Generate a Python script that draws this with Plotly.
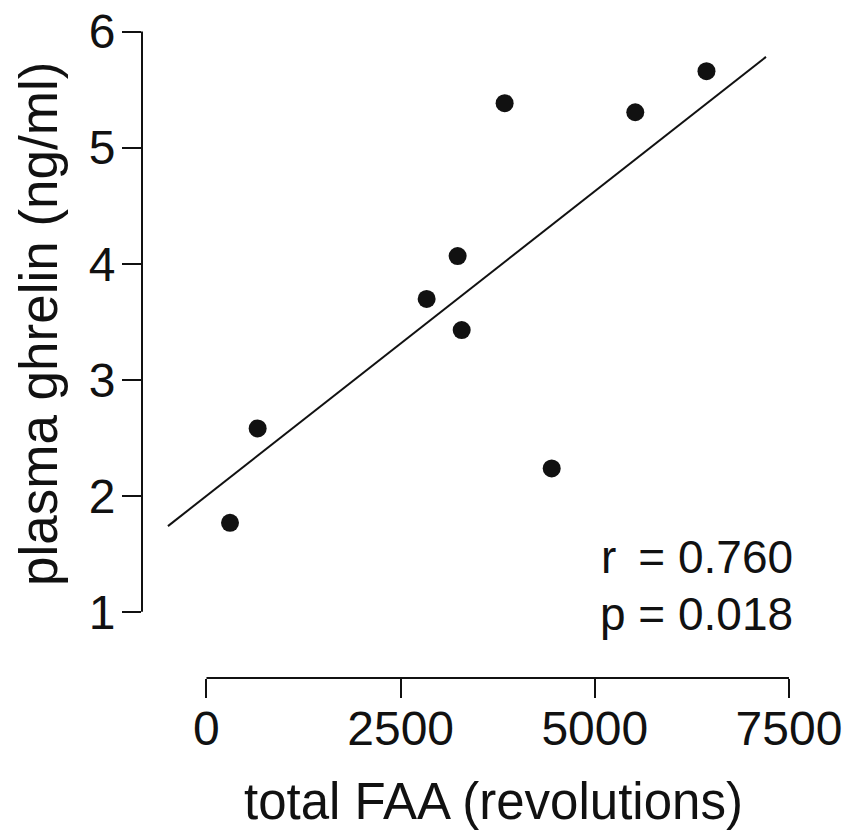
import plotly.graph_objects as go

# Data
faa_revolutions = [303, 659, 2835, 3234, 3286, 3839, 4445, 5521, 6438]
ghrelin_ng_ml = [1.767, 2.581, 3.696, 4.066, 3.428, 5.383, 2.236, 5.305, 5.659]

# Regression line endpoints
fit_x = [-496, 7204]
fit_y = [1.739, 5.782]

x_ticks = [0, 2500, 5000, 7500]
y_ticks = [1, 2, 3, 4, 5, 6]

stat_r = "r\u2009 = 0.760"
stat_p = "p = 0.018"

FONT = "Arial, Liberation Sans, sans-serif"
INK = "#111111"

fig = go.Figure()
fig.add_trace(go.Scatter(x=fit_x, y=fit_y, mode="lines",
                         line=dict(color=INK, width=2), hoverinfo="skip",
                         showlegend=False))
fig.add_trace(go.Scatter(x=faa_revolutions, y=ghrelin_ng_ml, mode="markers",
                         marker=dict(color=INK, size=18, line=dict(width=0)),
                         showlegend=False))

# detached axis lines spanning only the tick range
fig.add_shape(type="line", xref="paper", yref="y", x0=0, x1=0,
              y0=y_ticks[0], y1=y_ticks[-1], line=dict(color=INK, width=2))
fig.add_shape(type="line", xref="x", yref="paper", x0=x_ticks[0], x1=x_ticks[-1],
              y0=0, y1=0, line=dict(color=INK, width=2))

fig.add_annotation(text="plasma ghrelin (ng/ml)", textangle=-90,
                   xref="paper", yref="paper", x=(38 - 142) / 658, y=1 - (324 - 20) / 658,
                   xanchor="center", yanchor="middle", showarrow=False,
                   font=dict(family=FONT, size=53, color=INK))
fig.add_annotation(text="total FAA (revolutions)",
                   xref="paper", yref="paper", x=(493 - 142) / 658, y=-(801 - 678) / 658,
                   xanchor="center", yanchor="middle", showarrow=False,
                   font=dict(family=FONT, size=51, color=INK))
fig.add_annotation(text=stat_r, xref="x", yref="y", x=7578, y=1.47,
                   xanchor="right", yanchor="middle", showarrow=False,
                   font=dict(family=FONT, size=46, color=INK))
fig.add_annotation(text=stat_p, xref="x", yref="y", x=7578, y=0.98,
                   xanchor="right", yanchor="middle", showarrow=False,
                   font=dict(family=FONT, size=46, color=INK))

fig.update_xaxes(range=[-830, 7642], tickvals=x_ticks, ticktext=[str(v) for v in x_ticks],
                 showgrid=False, zeroline=False, showline=False, automargin=False,
                 ticks="outside", ticklen=19, tickwidth=2, tickcolor=INK,
                 ticklabelstandoff=-11, ticklabeloverflow="allow",
                 tickfont=dict(family=FONT, size=48, color=INK))
fig.update_yaxes(range=[0.43, 6.1], tickvals=y_ticks, ticktext=[str(v) for v in y_ticks],
                 showgrid=False, zeroline=False, showline=False, automargin=False,
                 ticks="outside", ticklen=19, tickwidth=2, tickcolor=INK,
                 ticklabelstandoff=-3, ticklabeloverflow="allow",
                 tickfont=dict(family=FONT, size=48, color=INK))

# the page adds an 8px body margin, so the figure is sized 8px smaller
fig.update_layout(width=845, height=825,
                  margin=dict(l=134, r=53, t=12, b=155, autoexpand=False),
                  plot_bgcolor="white", paper_bgcolor="white",
                  font=dict(family=FONT, color=INK))

fig.write_html("out.html")
